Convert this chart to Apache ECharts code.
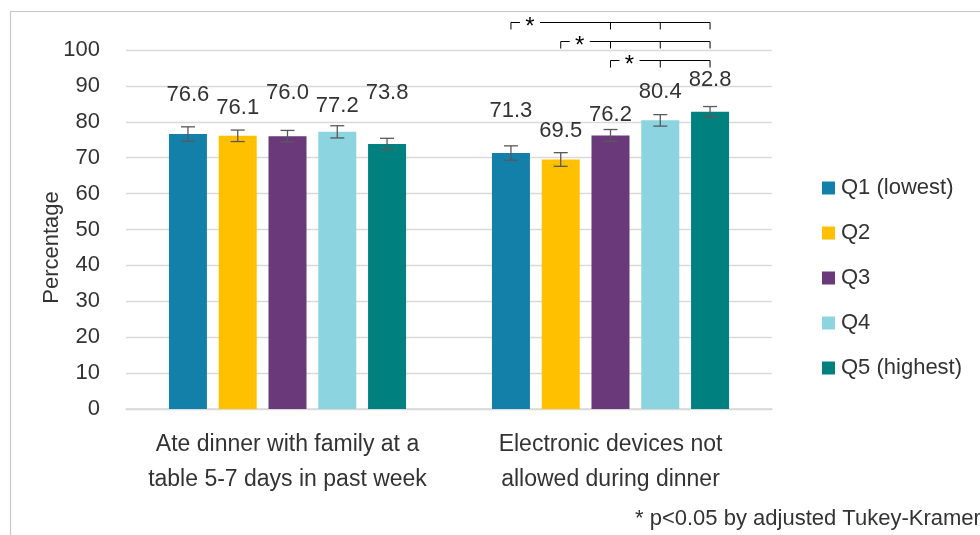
<!DOCTYPE html>
<html>
<head>
<meta charset="utf-8">
<script src="https://cdn.jsdelivr.net/npm/echarts@6/dist/echarts.min.js"></script>
<style>
  html, body { margin: 0; padding: 0; background: #fff; }
  #chart { width: 980px; height: 535px; }
</style>
</head>
<body>
<div id="chart"></div>
<script>
// ---- data ----
const categories = ['Ate dinner with family at a\ntable 5-7 days in past week', 'Electronic devices not\nallowed during dinner'];
const seriesNames = ['Q1 (lowest)', 'Q2', 'Q3', 'Q4', 'Q5 (highest)'];
const q1 = [76.6, 71.3];
const q2 = [76.1, 69.5];
const q3 = [76.0, 76.2];
const q4 = [77.2, 80.4];
const q5 = [73.8, 82.8];
// half-width of the error bars (estimated)
const q1Err = [2.0, 2.0];
const q2Err = [1.6, 1.9];
const q3Err = [1.6, 1.65];
const q4Err = [1.7, 1.6];
const q5Err = [1.6, 1.45];
const yMin = 0, yMax = 100, yStep = 10;
// significance comparisons (within category index sigCategory)
const sigCategory = 1;
const sigFrom = [0, 1, 2];
const sigTo = [[2, 3, 4], [2, 3, 4], [3, 4]];
const footnote = '* p<0.05 by adjusted Tukey-Kramer';

// ---- styling / layout ----
const colors = ['#1380AA', '#FFC000', '#693979', '#8CD4DF', '#00817F'];
const FONT = "'Liberation Sans', Arial, sans-serif";
const TEXT = '#333333';
const BAR_W = 38, BAR_GAP = 0.31;
const STRIDE = BAR_W * (1 + BAR_GAP);
// label lift above bar top (px), per series per category (manual placement in reference)
const labelLift = [[39.5, 42], [28.3, 29], [43.7, 21], [26.4, 28], [51.6, 32]];

const values = [q1, q2, q3, q4, q5];
const errs = [q1Err, q2Err, q3Err, q4Err, q5Err];

const barSeries = seriesNames.map((name, s) => ({
  name: name,
  type: 'bar',
  barWidth: BAR_W,
  barGap: (BAR_GAP * 100) + '%',
  itemStyle: { color: colors[s] },
  data: values[s].map((v, c) => ({
    value: v,
    label: { distance: labelLift[s][c] - 11 }
  })),
  label: {
    show: true,
    position: 'top',
    fontFamily: FONT,
    fontSize: 22,
    color: TEXT,
    formatter: p => p.value.toFixed(1)
  },
  z: 2
}));

const errData = [];
values.forEach((arr, s) => arr.forEach((v, c) => {
  errData.push([c, s, v - errs[s][c], v + errs[s][c]]);
}));

const errSeries = {
  type: 'custom',
  name: 'err',
  data: errData,
  encode: { x: 0, y: [2, 3] },
  z: 5,
  renderItem: function (params, api) {
    const c = api.value(0), s = api.value(1);
    const lo = api.coord([c, api.value(2)]);
    const hi = api.coord([c, api.value(3)]);
    const x = lo[0] + (s - 2) * STRIDE;
    const cap = 7;
    const st = { stroke: '#595959', lineWidth: 1.3 };
    return {
      type: 'group',
      children: [
        { type: 'line', shape: { x1: x, y1: lo[1], x2: x, y2: hi[1] }, style: st },
        { type: 'line', shape: { x1: x - cap, y1: hi[1], x2: x + cap, y2: hi[1] }, style: st },
        { type: 'line', shape: { x1: x - cap, y1: lo[1], x2: x + cap, y2: lo[1] }, style: st }
      ]
    };
  }
};

const sigSeries = {
  type: 'custom',
  name: 'sig',
  clip: false,
  data: sigFrom.map(f => [sigCategory, f]),
  encode: { x: 0 },
  z: 6,
  renderItem: function (params, api) {
    const i = params.dataIndex;
    const level = sigFrom.length - 1 - i;
    const top = api.coord([sigCategory, yMax]);
    const cx = top[0];
    const py = Math.round(top[1] + 10 - level * 19) + 0.5;
    const x0 = cx + (sigFrom[i] - 2) * STRIDE;
    const targets = sigTo[i];
    const xMax = cx + (targets[targets.length - 1] - 2) * STRIDE;
    const st = { stroke: '#000', lineWidth: 1 };
    const tick = 7;
    const children = [
      { type: 'line', shape: { x1: x0, y1: py, x2: x0, y2: py + tick }, style: st },
      { type: 'line', shape: { x1: x0, y1: py, x2: x0 + 9, y2: py }, style: st },
      { type: 'text', style: { text: '*', x: x0 + 19, y: py + 5, align: 'center', verticalAlign: 'middle', fontSize: 24, fontFamily: FONT, fill: '#000' } },
      { type: 'line', shape: { x1: x0 + 29, y1: py, x2: xMax, y2: py }, style: st }
    ];
    targets.forEach(t => {
      const xt = cx + (t - 2) * STRIDE;
      children.push({ type: 'line', shape: { x1: xt, y1: py, x2: xt, y2: py + tick }, style: st });
    });
    return { type: 'group', children: children };
  }
};

const chart = echarts.init(document.getElementById('chart'));
chart.setOption({
  animation: false,
  color: colors,
  textStyle: { fontFamily: FONT, color: TEXT },
  grid: { left: 126, right: 208, top: 50, bottom: 126 },
  title: {
    text: footnote,
    left: 630,
    top: 503,
    textStyle: { fontFamily: FONT, fontSize: 22, fontWeight: 'normal', color: TEXT }
  },
  legend: {
    data: seriesNames,
    orient: 'vertical',
    left: 817,
    top: 172,
    itemWidth: 13,
    itemHeight: 13,
    itemGap: 23,
    icon: 'rect',
    textStyle: { fontFamily: FONT, fontSize: 22, color: TEXT, padding: [0, 0, 0, 1] }
  },
  xAxis: {
    type: 'category',
    data: categories,
    axisTick: { show: false },
    axisLine: { lineStyle: { color: '#d9d9d9', width: 1.5 } },
    axisLabel: { fontFamily: FONT, fontSize: 23, color: TEXT, lineHeight: 35, margin: 18, interval: 0 }
  },
  yAxis: {
    type: 'value',
    min: yMin,
    max: yMax,
    interval: yStep,
    name: 'Percentage',
    nameLocation: 'middle',
    nameGap: 63,
    nameMoveOverlap: false,
    nameTextStyle: { fontFamily: FONT, fontSize: 22, color: TEXT, padding: [0, 36, 0, 0] },
    axisLine: { show: false },
    axisTick: { show: false },
    splitLine: { lineStyle: { color: '#d9d9d9', width: 1.3 } },
    axisLabel: { fontFamily: FONT, fontSize: 22, color: TEXT, margin: 26 }
  },
  graphic: [{
    type: 'rect',
    shape: { x: 10.5, y: 11.5, width: 1200, height: 800 },
    style: { fill: 'none', stroke: '#c6c6c6', lineWidth: 1.2 },
    silent: true,
    z: -10
  }],
  series: barSeries.concat([errSeries, sigSeries])
});
</script>
</body>
</html>
